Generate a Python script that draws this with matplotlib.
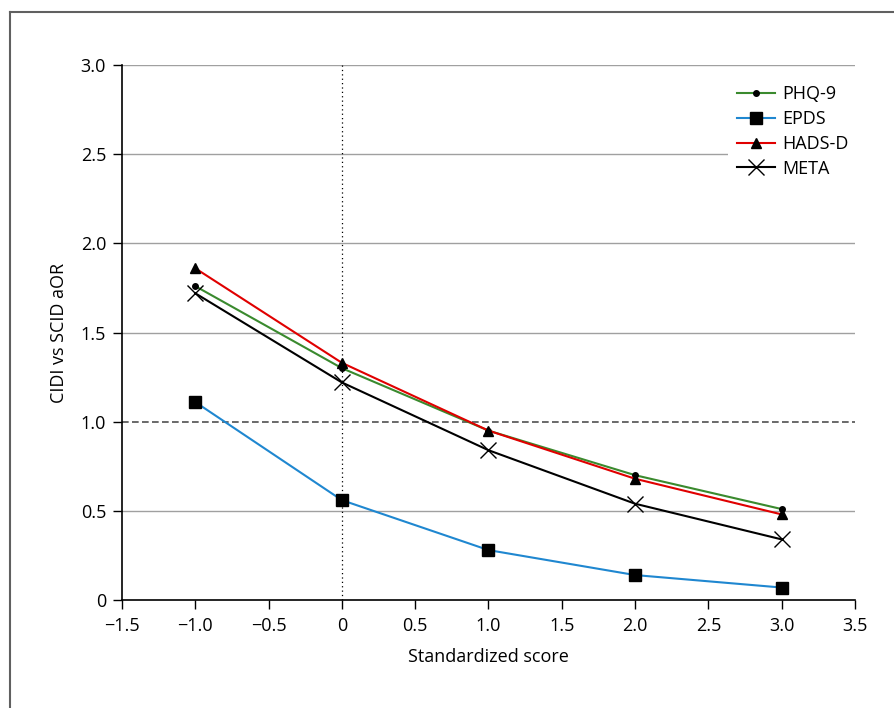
import numpy as np
import matplotlib.pyplot as plt
from matplotlib.lines import Line2D

plt.rcParams['font.family'] = ['Open Sans', 'DejaVu Sans']

# datos
x = [-1, 0, 1, 2, 3]
phq9 = [1.76, 1.30, 0.95, 0.70, 0.51]
epds = [1.11, 0.56, 0.28, 0.14, 0.07]
hads = [1.86, 1.33, 0.95, 0.68, 0.48]
meta = [1.72, 1.22, 0.84, 0.54, 0.34]

xticks = [-1.5, -1.0, -0.5, 0, 0.5, 1.0, 1.5, 2.0, 2.5, 3.0, 3.5]
yticks = [0, 0.5, 1.0, 1.5, 2.0, 2.5, 3.0]

def fmt(v):
    if v == 0:
        return '0'
    return f'{v:.1f}'.replace('-', '\u2212')

fig = plt.figure(figsize=(8.95, 7.08), dpi=100)
ax = fig.add_axes([0.1363, 0.1525, 0.819, 0.7557])

# marco de la figura (solo arriba e izquierda visibles)
fig.add_artist(Line2D([10/895, 1], [1 - 12/708, 1 - 12/708], color='#606060', lw=1.5))
fig.add_artist(Line2D([10/895, 10/895], [0, 1 - 12/708], color='#606060', lw=1.5))

# lineas de referencia
for v in yticks[1:]:
    if v == 1.0:
        ax.axhline(v, color='#505050', lw=1.2, ls=(0, (4, 2)), zorder=1)
    else:
        ax.axhline(v, color='#a0a0a0', lw=1.0, zorder=1)
ax.axvline(0, color='black', lw=0.9, ls=(0, (1, 2.5)), zorder=1)

ax.plot(x, phq9, color='#3a8a2e', lw=1.5, marker='o', ms=4, mfc='black', mec='black', label='PHQ-9', zorder=3)
ax.plot(x, epds, color='#1f87d0', lw=1.5, marker='s', ms=8, mfc='black', mec='black', label='EPDS', zorder=3)
ax.plot(x, hads, color='#e00000', lw=1.5, marker='^', ms=7, mfc='black', mec='black', label='HADS-D', zorder=3)
ax.plot(x, meta, color='black', lw=1.5, marker='x', ms=11, mew=1.0, mec='black', label='META', zorder=3)

ax.set_xlim(-1.5, 3.5)
ax.set_ylim(0, 3.0)
ax.set_xticks(xticks)
ax.set_xticklabels([fmt(v) for v in xticks], fontsize=13)
ax.set_yticks(yticks)
ax.set_yticklabels([fmt(v) for v in yticks], fontsize=13)
ax.tick_params(direction='out', length=6.5, width=1)
ax.tick_params(axis='x', pad=6)
ax.tick_params(axis='y', pad=5)

ax.spines['top'].set_visible(False)
ax.spines['right'].set_visible(False)
ax.spines['left'].set_linewidth(1.2)
ax.spines['bottom'].set_linewidth(1.2)

ax.set_xlabel('Standardized score', fontsize=13, labelpad=9)
ax.set_ylabel('CIDI vs SCID aOR', fontsize=13, labelpad=9)

leg = ax.legend(loc='upper left', bbox_to_anchor=(0.8145, 0.996), frameon=True, fontsize=13,
                handlelength=2.1, handletextpad=0.4, labelspacing=0.38, borderpad=0.5)
leg.get_frame().set_edgecolor('none')
leg.get_frame().set_facecolor('white')
leg.get_frame().set_alpha(1)
leg.get_frame().set_boxstyle('square', pad=0)

fig.savefig('out.png', dpi=100)
